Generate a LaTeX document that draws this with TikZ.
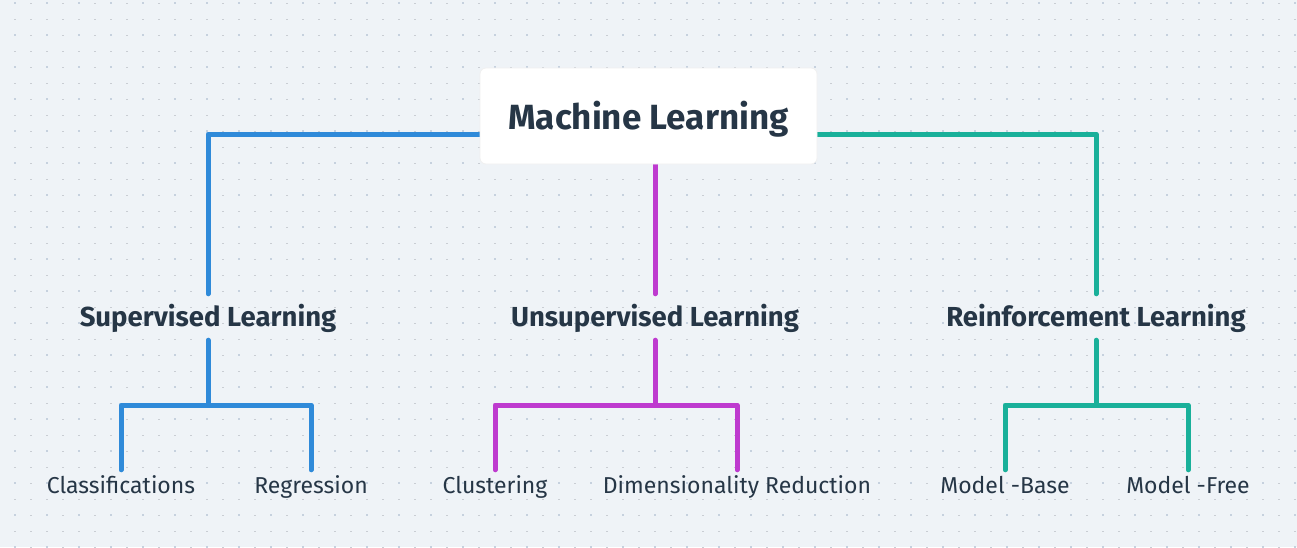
\documentclass[tikz,border=0pt]{standalone}
\usepackage{fontspec}
\setmainfont{Fira Sans}
\definecolor{bgc}{HTML}{EFF3F7}
\definecolor{dotbig}{HTML}{C6D1DE}
\definecolor{dotsmall}{HTML}{C9CDD3}
\definecolor{txt}{HTML}{263646}
\definecolor{cblue}{HTML}{2F8AD9}
\definecolor{cpurple}{HTML}{BE3ACF}
\definecolor{cteal}{HTML}{19B09A}
\tikzset{
  rootbox/.style={fill=white, draw=black!6, line width=0.8pt, rounded corners=6pt, minimum width=337pt, minimum height=96pt, inner sep=0pt, text height=30pt, text depth=4pt, text=txt, font=\bfseries\fontsize{35}{38}\selectfont},
  midlabel/.style={inner sep=0pt, text height=32pt, text depth=14pt, text=txt, font=\bfseries\fontsize{27.5}{30}\selectfont},
  leaflabel/.style={inner sep=0pt, text height=23pt, text depth=9pt, text=txt, font=\fontsize{23}{26}\selectfont},
  conn/.style={line width=5pt, line cap=round, line join=round},
}
\begin{document}
\begin{tikzpicture}[x=1pt,y=-1pt]
\useasboundingbox (0,0) rectangle (1297,547);
\fill[bgc] (0,0) rectangle (1297,547);
\foreach \i in {0,...,81}{
  \foreach \j in {0,...,34}{
    \pgfmathsetmacro{\px}{15+16*\i}
    \pgfmathsetmacro{\py}{3+16*\j}
    \ifodd\i
      \fill[dotsmall] (\px-0.7,\py-0.5) rectangle ++(1.4,1);
    \else\ifodd\j
      \fill[dotsmall] (\px-0.7,\py-0.5) rectangle ++(1.4,1);
    \else
      \fill[dotbig] (\px-1,\py-1) rectangle ++(2,2);
    \fi\fi
  }
}
% nodes
\node[midlabel] (sup) at (208,317) {Supervised Learning};
\node[midlabel] (uns) at (655,317) {Unsupervised Learning};
\node[midlabel] (rei) at (1096,317) {Reinforcement Learning};
\node[leaflabel] (cls) at (121,486) {Classifications};
\node[leaflabel] (reg) at (311,486) {Regression};
\node[leaflabel] (clu) at (495,486) {Clustering};
\node[leaflabel] (dim) at (737,486) {Dimensionality Reduction};
\node[leaflabel] (mb) at (1005,486) {Model -Base};
\node[leaflabel] (mf) at (1188,486) {Model -Free};
\coordinate (bsup) at (208,405);
\coordinate (buns) at (655,405);
\coordinate (brei) at (1096,405);
% connectors from root
\draw[conn, cblue] (648,134) -| (sup.north);
\draw[conn, cteal] (648,134) -| (rei.north);
\draw[conn, cpurple] (655,140) -- (uns.north);
% root box
\node[rootbox] (root) at (648.5,116) {Machine Learning};
% lower connectors
\draw[conn, cblue] (sup.south) -- (bsup);
\draw[conn, cblue] (cls.north) |- (bsup) -| (reg.north);
\draw[conn, cpurple] (uns.south) -- (buns);
\draw[conn, cpurple] (clu.north) |- (buns) -| (dim.north);
\draw[conn, cteal] (rei.south) -- (brei);
\draw[conn, cteal] (mb.north) |- (brei) -| (mf.north);
\end{tikzpicture}
\end{document}
